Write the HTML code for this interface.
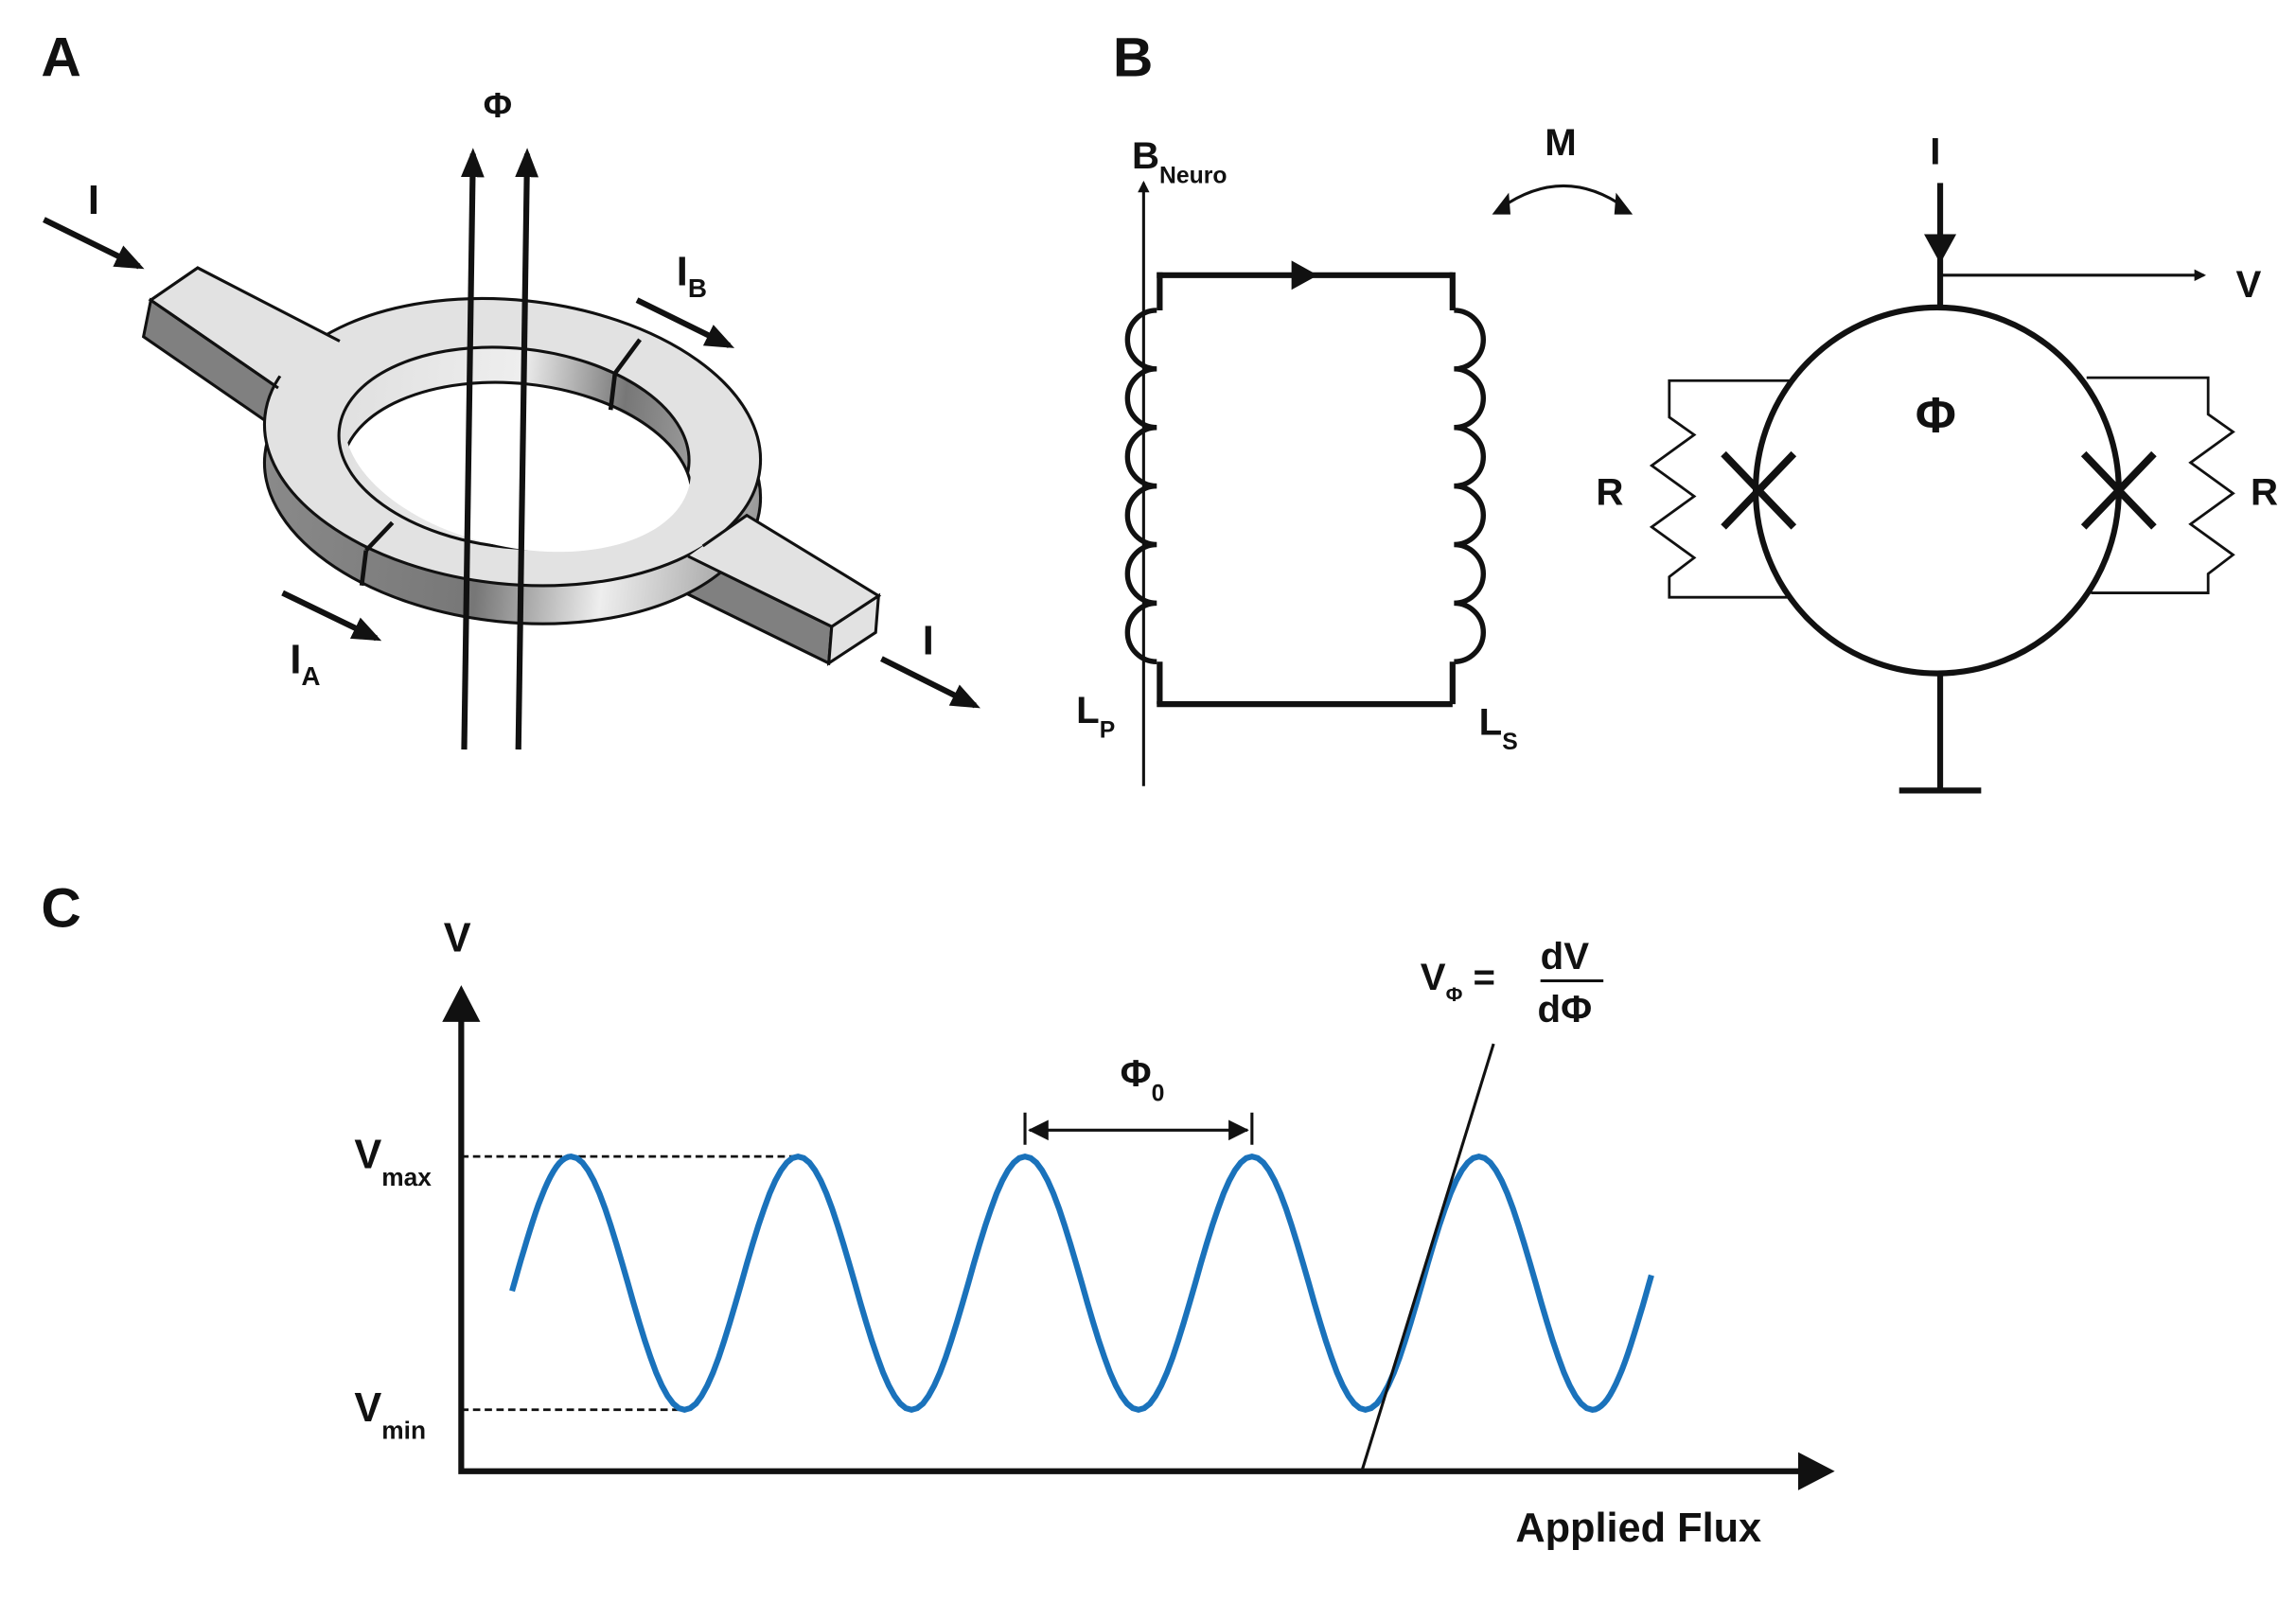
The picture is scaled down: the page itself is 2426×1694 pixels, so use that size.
<!DOCTYPE html>
<html><head><meta charset="utf-8"><style>
html,body{margin:0;padding:0;background:#fff}
svg{display:block}
text{font-family:"Liberation Sans",sans-serif;font-weight:bold;fill:#111}
</style></head><body>
<svg width="2426" height="1694" viewBox="0 0 1568 1095" preserveAspectRatio="none" xmlns="http://www.w3.org/2000/svg">
<defs>
<marker id="ah" viewBox="0 0 10 10" refX="8" refY="5" markerWidth="4" markerHeight="4" orient="auto"><path d="M0,0 L10,5 L0,10 z" fill="#111"/></marker>
<marker id="ahs" viewBox="0 0 10 10" refX="8" refY="5" markerWidth="5" markerHeight="5" orient="auto"><path d="M0,1 L10,5 L0,9 z" fill="#111"/></marker>
<linearGradient id="side" x1="0" x2="1" y1="0" y2="0"><stop offset="0" stop-color="#8a8a8a"/><stop offset="0.45" stop-color="#777"/><stop offset="0.7" stop-color="#eee"/><stop offset="1" stop-color="#999"/></linearGradient>
<linearGradient id="inner" x1="0" x2="1" y1="0" y2="0"><stop offset="0" stop-color="#e0e0e0"/><stop offset="0.5" stop-color="#eee"/><stop offset="0.8" stop-color="#777"/><stop offset="1" stop-color="#999"/></linearGradient>
<clipPath id="holeclip"><ellipse cx="351" cy="306" rx="120" ry="68" transform="rotate(6 351 306)"/></clipPath>
</defs>

<text x="28" y="52" font-size="38">A</text>
<text x="760" y="52" font-size="38">B</text>
<text x="28" y="633" font-size="38">C</text>

<g stroke="#111" stroke-width="2">
  <polygon points="103,205 98,230 185,290 190,265" fill="#808080"/>
  <polygon points="103,205 135,183 240,238 190,265" fill="#e2e2e2"/>
  <polygon points="470,380 468,405 566,453 568,428" fill="#808080"/>
  <polygon points="568,428 600,407 598,432 566,453" fill="#e2e2e2"/>
  <ellipse cx="350" cy="328" rx="170" ry="97" transform="rotate(6 350 328)" fill="url(#side)"/>
  <ellipse cx="350" cy="302" rx="170" ry="97" transform="rotate(6 350 302)" fill="#e2e2e2"/>
  <polygon points="470,380 510,352 600,407 568,428" fill="#e2e2e2" stroke="none"/>
  <polyline points="480,373 510,352 600,407 568,428 470,380" fill="none"/>
  <polygon points="135,183 240,238 200,262 103,205" fill="#e2e2e2" stroke="none"/>
  <polyline points="190,265 103,205 135,183 232,233" fill="none"/>
  <ellipse cx="351" cy="306" rx="120" ry="68" transform="rotate(6 351 306)" fill="url(#inner)"/>
  <ellipse cx="353" cy="330" rx="120" ry="68" transform="rotate(6 353 330)" fill="#fff" clip-path="url(#holeclip)"/>
  <line x1="420" y1="255" x2="437" y2="232" stroke-width="3"/>
  <line x1="420" y1="255" x2="417" y2="280" stroke-width="3"/>
  <line x1="250" y1="376" x2="268" y2="357" stroke-width="3"/>
  <line x1="250" y1="376" x2="247" y2="400" stroke-width="3"/>
</g>
<g stroke="#111" stroke-width="4">
  <line x1="317" y1="512" x2="323" y2="105" marker-end="url(#ahs)"/>
  <line x1="354" y1="512" x2="360" y2="105" marker-end="url(#ahs)"/>
</g>
<text x="330" y="80" font-size="24">Φ</text>
<g stroke="#111" stroke-width="4">
  <line x1="30" y1="150" x2="95" y2="182" marker-end="url(#ahs)"/>
  <line x1="435" y1="205" x2="498" y2="236" marker-end="url(#ahs)"/>
  <line x1="193" y1="405" x2="257" y2="436" marker-end="url(#ahs)"/>
  <line x1="602" y1="450" x2="666" y2="482" marker-end="url(#ahs)"/>
</g>
<text x="60" y="146" font-size="28">I</text>
<text x="462" y="195" font-size="28">I<tspan font-size="18" dy="8">B</tspan></text>
<text x="198" y="460" font-size="28">I<tspan font-size="18" dy="8">A</tspan></text>
<text x="630" y="447" font-size="28">I</text>

<g stroke="#111" fill="none">
  <line x1="781" y1="537" x2="781" y2="125" stroke-width="2" marker-end="url(#ah)"/>
  <line x1="790" y1="188" x2="992" y2="188" stroke-width="4"/>
  <path d="M882,178 L900,188 L882,198 z" fill="#111" stroke="none"/>
  <line x1="790" y1="481" x2="992" y2="481" stroke-width="4"/>
  <path d="M792,186 V212 M792,452 V481" stroke-width="4"/>
  <path d="M992,186 V212 M992,452 V481" stroke-width="4"/>
  <path d="M790,212 a20,20 0 0 0 0,40 a20,20 0 0 0 0,40 a20,20 0 0 0 0,40 a20,20 0 0 0 0,40 a20,20 0 0 0 0,40 a20,20 0 0 0 0,40" stroke-width="3.5"/>
  <path d="M993,212 a20,20 0 0 1 0,40 a20,20 0 0 1 0,40 a20,20 0 0 1 0,40 a20,20 0 0 1 0,40 a20,20 0 0 1 0,40 a20,20 0 0 1 0,40" stroke-width="3.5"/>
  <path d="M1025,142 Q1068,112 1110,142" stroke-width="2"/>
  <path d="M1020,146 L1030,133 L1031,146 z M1114,146 L1104,133 L1103,146 z" fill="#111"/>
</g>
<text x="773" y="115" font-size="26">B<tspan font-size="16" dy="10">Neuro</tspan></text>
<text x="735" y="494" font-size="26">L<tspan font-size="16" dy="10">P</tspan></text>
<text x="1010" y="502" font-size="26">L<tspan font-size="16" dy="10">S</tspan></text>
<text x="1055" y="106" font-size="26">M</text>

<g stroke="#111" fill="none">
  <line x1="1325" y1="125" x2="1325" y2="212" stroke-width="4"/>
  <path d="M1314,160 L1336,160 L1325,180 z" fill="#111" stroke="none"/>
  <line x1="1325" y1="188" x2="1505" y2="188" stroke-width="2" marker-end="url(#ah)"/>
  <ellipse cx="1323" cy="335" rx="124" ry="125" stroke-width="4"/>
  <line x1="1325" y1="460" x2="1325" y2="540" stroke-width="4"/>
  <line x1="1297" y1="540" x2="1353" y2="540" stroke-width="4"/>
  <path d="M1222,260 H1140 V285 L1157,297 L1128,318 L1157,339 L1128,360 L1157,381 L1140,394 V408 H1222" stroke-width="1.8"/>
  <path d="M1425,258 H1508 V283 L1525,295 L1496,316 L1525,337 L1496,358 L1525,379 L1508,392 V405 H1428" stroke-width="1.8"/>
  <path d="M1177,310 L1225,360 M1225,310 L1177,360" stroke-width="5"/>
  <path d="M1423,310 L1471,360 M1471,310 L1423,360" stroke-width="5"/>
</g>
<text x="1318" y="112" font-size="26">I</text>
<text x="1527" y="203" font-size="26">V</text>
<text x="1308" y="295" font-size="34">Φ</text>
<text x="1090" y="345" font-size="26">R</text>
<text x="1537" y="345" font-size="26">R</text>

<g id="chart"></g>
</svg>
<script>
// Flux in units of Phi0, voltage normalised (0 = Vmin, 1 = Vmax)
const fluxPoints = [-0.26, 0, 0.5, 1, 1.5, 2, 2.5, 3, 3.5, 4, 4.5, 4.76];
const voltPoints = [0.5, 1, 0, 1, 0, 1, 0, 1, 0, 1, 0, 0.52];
const axisLabels = ["V", "Applied Flux"];
const levelLabels = ["max", "min"];

const NS = "http://www.w3.org/2000/svg";
const g = document.getElementById('chart');
const X0 = 315, Y0 = 1005;
const xS = f => 390 + f * 155;
const yS = v => 963 - v * 173;

function el(tag, attrs, parent) {
  const e = document.createElementNS(NS, tag);
  for (const k in attrs) e.setAttribute(k, attrs[k]);
  (parent || g).appendChild(e);
  return e;
}

let ax = el('path', {d: `M${X0},${Y0} V690 M${X0-2},${Y0} H1232`, stroke: '#111', 'stroke-width': 4, fill: 'none'});


let ah1 = el('path', {d: `M${X0-13},698 L${X0},673 L${X0+13},698 z M1228,992 L1253,1005 L1228,1018 z`, fill: '#111'});



let yl = el('text', {x: 303, y: 650, 'font-size': 28});
yl.textContent = axisLabels[0];


let xl = el('text', {x: 1035, y: 1053, 'font-size': 28});
xl.textContent = axisLabels[1];



const vmax = Math.max(...voltPoints), vmin = Math.min(...voltPoints);
let dl = el('path', {d: `M${X0},${yS(vmax)} H${xS(1)} M${X0},${yS(vmin)} H${xS(0.5)}`, stroke: '#111', 'stroke-width': 1.8, 'stroke-dasharray': '5,3', fill: 'none'});


[[vmax, levelLabels[0], 'vmax-label'], [vmin, levelLabels[1], 'vmin-label']].forEach(([v, s, n]) => {
  const t = el('text', {x: 242, y: yS(v) + 8, 'font-size': 28});
  t.innerHTML = `V<tspan font-size="17" dy="12">${s}</tspan>`;
  
  
});

let d = '';
for (let i = 0; i < fluxPoints.length - 1; i++) {
  const f0 = fluxPoints[i], f1 = fluxPoints[i + 1], v0 = voltPoints[i], v1 = voltPoints[i + 1];
  for (let k = 0; k <= 20; k++) {
    const t = k / 20, f = f0 + (f1 - f0) * t;
    let v;
    if (i === 0 || i === fluxPoints.length - 2) {
      const ref = i === 0 ? f1 : f0, vr = i === 0 ? v1 : v0;
      v = 0.5 + (vr - 0.5) * Math.cos(Math.PI * (f - ref) / 0.5);
    } else {
      v = v0 + (v1 - v0) * (1 - Math.cos(Math.PI * t)) / 2;
    }
    d += (d ? 'L' : 'M') + xS(f).toFixed(1) + ',' + yS(v).toFixed(1);
  }
}
let curve = el('path', {d, stroke: '#1a72bb', 'stroke-width': 4, fill: 'none'});



let pm = el('path', {d: `M${xS(2)},760 V782 M${xS(3)},760 V782 M${xS(2)+3},772 H${xS(3)-3}`, stroke: '#111', 'stroke-width': 2, fill: 'none'});


let pa = el('path', {d: `M${xS(2)+2},772 l14,-7 v14 z M${xS(3)-2},772 l-14,-7 v14 z`, fill: '#111'});


let pl = el('text', {x: 765, y: 742, 'font-size': 26});
pl.innerHTML = 'Φ<tspan font-size="16" dy="10">0</tspan>';



let tg = el('line', {x1: 930, y1: 1005, x2: 1020, y2: 713, stroke: '#111', 'stroke-width': 2});


let tl = el('text', {x: 970, y: 676, 'font-size': 26});
tl.innerHTML = 'V<tspan font-size="14" dy="8">Φ</tspan><tspan dy="-8"> =</tspan>';


let tn = el('text', {x: 1052, y: 662, 'font-size': 26});
tn.textContent = 'dV';


let fr = el('line', {x1: 1052, y1: 670, x2: 1095, y2: 670, stroke: '#111', 'stroke-width': 2});


let td = el('text', {x: 1050, y: 698, 'font-size': 26});
td.textContent = 'dΦ';


</script>
</body></html>
